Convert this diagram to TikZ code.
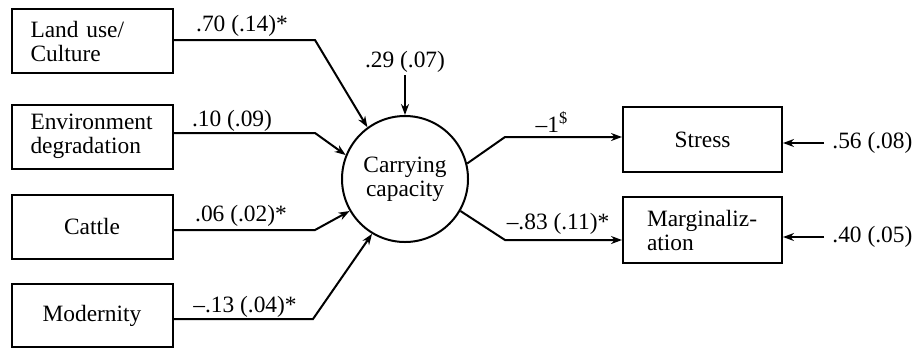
\documentclass[tikz,border=0pt]{standalone}
\usepackage{fontspec}
\setmainfont{Liberation Serif}
\usetikzlibrary{arrows.meta}
\begin{document}
\begin{tikzpicture}[x=0.5pt,y=-0.5pt,
  font=\fontsize{11.7}{12}\selectfont,
  box/.style={draw, line width=1pt, rectangle, inner sep=0pt, minimum width=80.5pt, minimum height=32pt, align=center},
  lbox/.style={box, text width=62pt, inner xsep=9pt, align=left},
  rbox/.style={box, minimum width=79.5pt, minimum height=32.5pt},
  lab/.style={inner sep=1pt},
  arr/.style={line width=1pt, -{Stealth[length=5.5pt,width=4pt]}}]
\useasboundingbox (0,0) rectangle (915,349);
% left boxes
\node[lbox] (b1) at (92.5,41) {Land use/\\Culture};
\node[lbox] (b2) at (92.5,136.5) {Environment\\degradation};
\node[box] (b3) at (92,226.5) {Cattle};
\node[box, minimum height=31.5pt] (b4) at (92,315.5) {Modernity};
% circle
\node[draw, circle, line width=1pt, minimum size=63pt, inner sep=0pt, align=center] (cc) at (405,179) {Carrying\\capacity};
% right boxes
\node[rbox] (st) at (702.5,139.5) {Stress};
\node[rbox, minimum height=33pt, text width=55.5pt, inner xsep=12pt, align=left] (mg) at (702.5,230) {Marginaliz-\\ation};
% bend points
\coordinate (k1) at (315,40);
\coordinate (k2) at (315,133);
\coordinate (k3) at (315,230);
\coordinate (k4) at (313,319);
\coordinate (m1) at (505,137);
\coordinate (m2) at (505,240);
% connectors in
\draw[arr] (k1 -| b1.east) -- (k1) -- (cc.126);
\draw[arr] (k2 -| b2.east) -- (k2) -- (cc.158);
\draw[arr] (k3 -| b3.east) -- (k3) -- (cc.210);
\draw[arr] (k4 -| b4.east) -- (k4) -- (cc.239);
% labels in
\node[lab] (l1) at (242,26) {.70 (.14)*};
\node[lab] (l2) at (232,121) {.10 (.09)};
\node[lab] (l3) at (241,216) {.06 (.02)*};
\node[lab] (l4) at (245,307) {–.13 (.04)*};
% disturbance of circle
\node[lab] (e) at (405,62) {.29 (.07)};
\draw[arr] (e.south) -- (cc.north);
% connectors out
\draw[arr] (cc.14) -- (m1) -- (m1 -| st.west);
\draw[arr] (cc.330) -- (m2) -- (m2 -| mg.west);
\node[lab] (o1) at (552,122) {–1\textsuperscript{\$}};
\node[lab] (o2) at (558,224) {–.83 (.11)*};
% residuals
\node[lab, anchor=west, inner sep=4pt] (r1) at (824,143) {.56 (.08)};
\node[lab, anchor=west, inner sep=4pt] (r2) at (824,237) {.40 (.05)};
\draw[arr] (r1.west) -- (r1.west -| st.east);
\draw[arr] (r2.west) -- (r2.west -| mg.east);
\end{tikzpicture}
\end{document}
